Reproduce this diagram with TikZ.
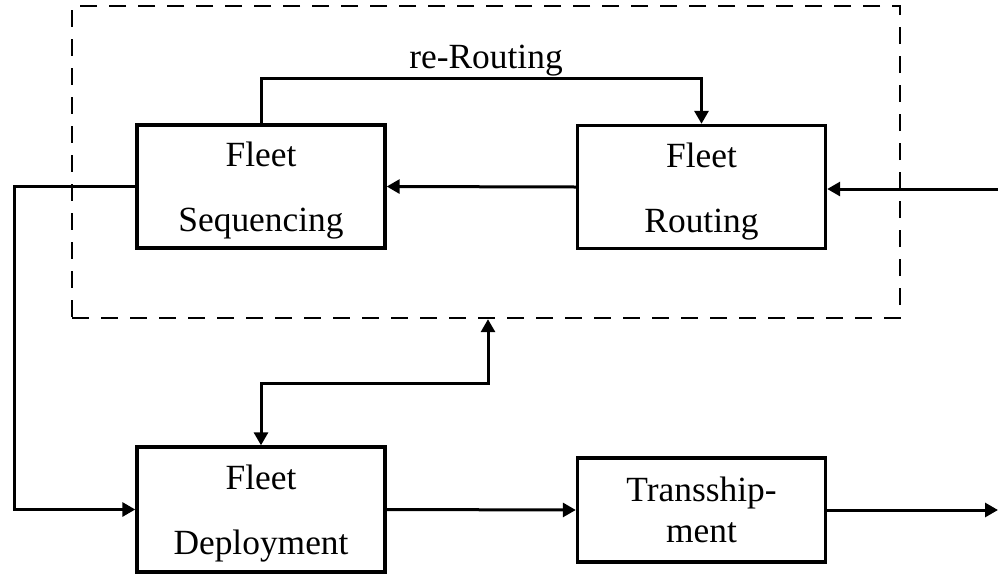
\documentclass[tikz,border=0pt]{standalone}
\usepackage{fontspec}
\setmainfont{Liberation Serif}
\usetikzlibrary{arrows.meta}
\newcommand{\lowtop}{\rule{0pt}{16.8pt}}
\begin{document}
\begin{tikzpicture}[x=0.5pt,y=-0.5pt,
  blk/.style={draw,line width=1.7pt,minimum width=124pt,minimum height=61.5pt,inner sep=0pt,align=center,font=\fontsize{17.7}{32.5}\selectfont},
  conn/.style={line width=1.5pt,-{Triangle[length=6.5pt,width=7pt]}},
  grpbox/.style={draw,line width=1.2pt,dash pattern=on 8.5pt off 6pt,minimum width=414pt,minimum height=156pt,inner sep=0pt}]
\useasboundingbox (0,0) rectangle (998,574);
\node[grpbox] (grp) at (486,162) {};
\node[blk] (seq) at (261,186.5) {\lowtop Fleet\\Sequencing};
\node[blk] (rout) at (701.5,187) {\lowtop Fleet\\Routing};
\node[blk,minimum height=62.5pt] (dep) at (261,509.5) {\lowtop Fleet\\Deployment};
\node[blk,minimum height=52pt,font=\fontsize{17.7}{20.5}\selectfont] (tra) at (701.5,510) {Transship-\\ment};
\node[font=\fontsize{17.7}{20}\selectfont] (lbl) at (486,61) {re-Routing};
\draw[conn] (seq.north) -- ++(0,-45) -| (rout.north);
\draw[conn] (rout.west) -- (seq.east);
\coordinate (in) at (998,189);
\draw[conn] (in) -- (in -| rout.east);
\coordinate (lft) at (14,0);
\draw[conn] (seq.west) -- (lft |- seq.west) |- (dep.west);
\coordinate (mid) at (488,383);
\draw[line width=1.5pt,{Triangle[length=6.5pt,width=7pt]}-{Triangle[length=6.5pt,width=7pt]}] (dep.north) -- (dep.north |- mid) -- (mid) -- (mid |- grp.south);
\draw[conn] (dep.east) -- (tra.west);
\coordinate (out) at (998,512);
\draw[conn] (tra.east) -- (out |- tra.east);
\end{tikzpicture}
\end{document}
